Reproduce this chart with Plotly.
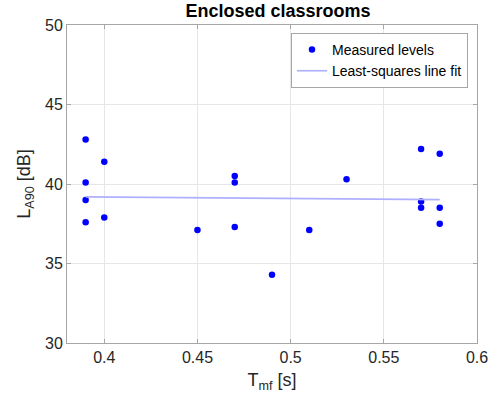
import numpy as np
import plotly.graph_objects as go

t_mf = [0.39, 0.39, 0.39, 0.39, 0.40, 0.40, 0.45, 0.47, 0.47, 0.47,
        0.49, 0.51, 0.53, 0.57, 0.57, 0.57, 0.58, 0.58, 0.58]
l_a90 = [42.8, 40.1, 39.0, 37.6, 41.4, 37.9, 37.1, 40.5, 40.1, 37.3,
         34.3, 37.1, 40.3, 42.2, 38.9, 38.5, 41.9, 38.5, 37.5]
x_ticks = [0.4, 0.45, 0.5, 0.55, 0.6]
y_ticks = [30, 35, 40, 45, 50]

slope, intercept = np.polyfit(t_mf, l_a90, 1)
fit_x = [min(t_mf), max(t_mf)]
fit_y = [slope * v + intercept for v in fit_x]

fig = go.Figure()
fig.add_trace(go.Scatter(x=t_mf, y=l_a90, mode="markers", name="Measured levels",
                         marker=dict(color="#0000ff", size=6.5, symbol="circle")))
fig.add_trace(go.Scatter(x=fit_x, y=fit_y, mode="lines", name="Least-squares line fit",
                         line=dict(color="rgb(175,175,255)", width=1.6)))

font = "Liberation Sans, Arial, sans-serif"
axis_common = dict(showgrid=True, gridcolor="#e6e6e6", gridwidth=1,
                   showline=True, linecolor="#a6a6a6", linewidth=1, mirror="ticks",
                   ticks="inside", ticklen=4, tickcolor="#a6a6a6", zeroline=False,
                   tickfont=dict(family=font, size=16, color="#262626"))
fig.update_layout(
    width=500, height=404,
    margin=dict(l=67, r=13, t=25, b=61),
    paper_bgcolor="white", plot_bgcolor="white",
    title=dict(text="<b>Enclosed classrooms</b>", x=0.556, xanchor="center",
               y=0.99, yanchor="top",
               font=dict(family=font, size=18, color="black")),
    xaxis=dict(range=[0.38, 0.6], tickvals=x_ticks, ticktext=[str(v) for v in x_ticks],
               title=dict(text="T<sub>mf</sub> [s]", standoff=8,
                          font=dict(family=font, size=18, color="#262626")),
               **axis_common),
    yaxis=dict(range=[30, 50], tickvals=y_ticks,
               title=dict(text="L<sub>A90</sub> [dB]", standoff=9,
                          font=dict(family=font, size=18, color="#262626")),
               **axis_common),
    legend=dict(x=0.978, y=0.975, xanchor="right", yanchor="top",
                bgcolor="white", bordercolor="#a6a6a6", borderwidth=1,
                font=dict(family=font, size=14, color="black"),
                tracegroupgap=0, itemwidth=30),
    showlegend=True,
)
fig.write_html("out.html")
